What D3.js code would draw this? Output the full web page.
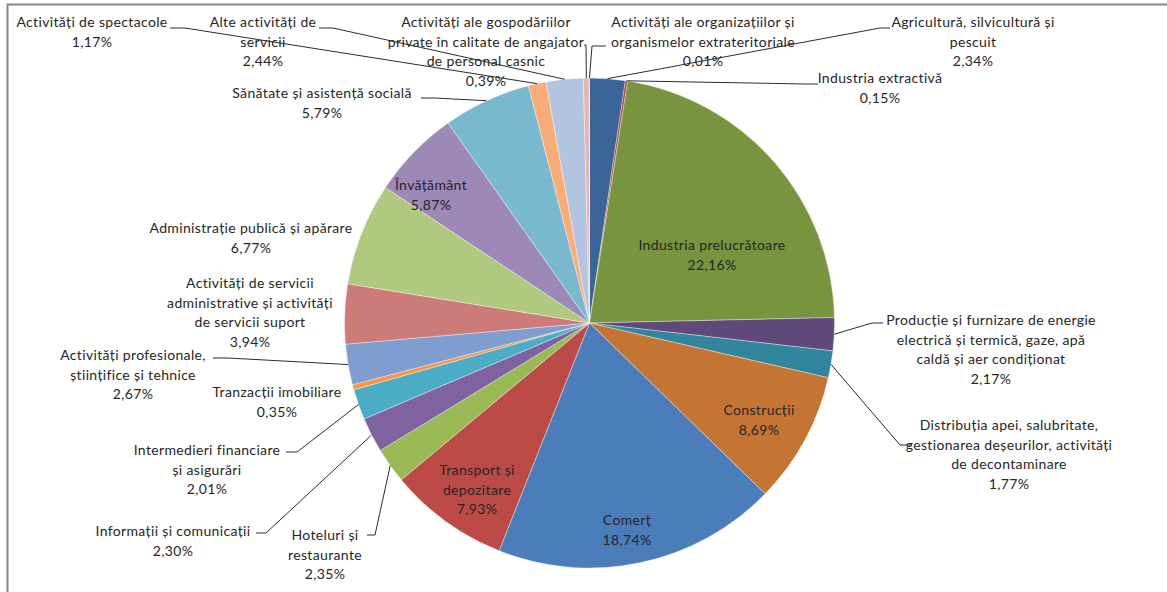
<!DOCTYPE html>
<html><head><meta charset="utf-8">
<script src="https://cdn.jsdelivr.net/npm/d3@7"></script>
<style>
body{margin:0;background:#fff}
text{font-family:Lato, "Liberation Sans", sans-serif;font-size:14px;letter-spacing:0.35px;fill:#262626}
</style>
</head><body><svg id="c" width="1167" height="592"></svg>
<script>
// ---- data ----
const categories = [
  "Agricultură, silvicultură și pescuit",
  "Industria extractivă",
  "Industria prelucrătoare",
  "Producție și furnizare de energie electrică și termică, gaze, apă caldă și aer condiționat",
  "Distribuția apei, salubritate, gestionarea deșeurilor, activități de decontaminare",
  "Construcții",
  "Comerț",
  "Transport și depozitare",
  "Hoteluri și restaurante",
  "Informații și comunicații",
  "Intermedieri financiare și asigurări",
  "Tranzacții imobiliare",
  "Activități profesionale, științifice și tehnice",
  "Activități de servicii administrative și activități de servicii suport",
  "Administrație publică și apărare",
  "Învățământ",
  "Sănătate și asistență socială",
  "Activități de spectacole",
  "Alte activități de servicii",
  "Activități ale gospodăriilor private în calitate de angajator de personal casnic",
  "Activități ale organizațiilor și organismelor extrateritoriale"
];
const values = [2.34, 0.15, 22.16, 2.17, 1.77, 8.69, 18.74, 7.93, 2.35, 2.30, 2.01, 0.35, 2.67, 3.94, 6.77, 5.87, 5.79, 1.17, 2.44, 0.39, 0.01];
const labelLines = [
  ["Agricultură, silvicultură și", "pescuit"],
  ["Industria extractivă"],
  ["Industria prelucrătoare"],
  ["Producție și furnizare de energie", "electrică și termică, gaze, apă", "caldă și aer condiționat"],
  ["Distribuția apei, salubritate,", "gestionarea deșeurilor, activități", "de decontaminare"],
  ["Construcții"],
  ["Comerț"],
  ["Transport și", "depozitare"],
  ["Hoteluri și", "restaurante"],
  ["Informații și comunicații"],
  ["Intermedieri financiare", "și asigurări"],
  ["Tranzacții imobiliare"],
  ["Activități profesionale,", "științifice și tehnice"],
  ["Activități de servicii", "administrative și activități", "de servicii suport"],
  ["Administrație publică și apărare"],
  ["Învățământ"],
  ["Sănătate și asistență socială"],
  ["Activități de spectacole"],
  ["Alte activități de", "servicii"],
  ["Activități ale gospodăriilor", "private în calitate de angajator", "de personal casnic"],
  ["Activități ale organizațiilor și", "organismelor extrateritoriale"]
];
const colors = ["#3B6599","#A9423F","#78943E","#604A7B","#31859C","#C47533","#4A7DBA","#BC4B48","#98B954","#7F63A1","#4BACC6","#F79646","#7F9ECF","#CD7B79","#AFC97E","#9D89B8","#79B9CF","#F9AB78","#B3C4E0","#E4B5B4","#C8D9A8"];

// ---- layout (label placement) ----
const W = 1167, H = 592, cx = 589.5, cy = 323, R = 245, lineH = 19.6;
const labelPos = [
  {x:973, y:22, stub:[[890,28],[880,28]]},
  {x:880, y:78, stub:[[818,84],[806,84]]},
  {x:712, y:245},
  {x:991, y:320, stub:[[883,323],[872,323]]},
  {x:1009, y:425, stub:[[912,445],[900,445]]},
  {x:759, y:410},
  {x:627, y:520},
  {x:477, y:470},
  {x:325, y:535, stub:[[367,535],[375,535]]},
  {x:173, y:531, stub:[[256,533],[266,533]]},
  {x:207, y:450, stub:[[286,452],[297,452]]},
  {x:277, y:392},
  {x:133, y:355, stub:[[213,358],[228,358]]},
  {x:250, y:283},
  {x:251, y:228},
  {x:431, y:185},
  {x:322, y:93, stub:[[421,98],[435,98]]},
  {x:92, y:22, stub:[[170,28],[185,28]]},
  {x:263, y:22, stub:[[319,28],[333,28]]},
  {x:486, y:22, stub:[[584,45],[586,45]]},
  {x:703, y:22, stub:[[606,46],[592,46]]}
];

const svg = d3.select("#c");
// frame
svg.append("path").attr("d", `M7.5,${H} V4.5 H${W}`).attr("fill","none").attr("stroke","#868686").attr("stroke-width",2);

const pie = d3.pie().sort(null).value(d => d);
const arcs = pie(values);
const arc = d3.arc().innerRadius(0).outerRadius(R);
const edge = d3.arc().innerRadius(R).outerRadius(R);
const g = svg.append("g").attr("transform", `translate(${cx},${cy})`);
g.selectAll("path.slice").data(arcs).join("path")
  .attr("class","slice").attr("d", arc)
  .attr("fill", (d,i) => colors[i])
  .attr("stroke", "rgba(255,255,255,0.6)").attr("stroke-width", 0.6);

const fmt = v => d3.format(".2f")(v).replace(".", ",") + "%";
const line = d3.line();

// leader lines
arcs.forEach((d, i) => {
  const p = labelPos[i];
  if (!p.stub) return;
  const c = edge.centroid(d);
  const pts = p.stub.concat([[c[0] + cx, c[1] + cy]]);
  svg.append("path").attr("d", line(pts)).attr("fill","none")
    .attr("stroke","#2b2b2b").attr("stroke-width",1);
});

// labels
arcs.forEach((d, i) => {
  const p = labelPos[i];
  const lines = labelLines[i].concat([fmt(values[i])]);
  const t = svg.append("text").attr("text-anchor","middle");
  lines.forEach((s, k) => {
    t.append("tspan").attr("x", p.x).attr("y", p.y + k * lineH).attr("dy","0.35em").text(s);
  });
});
</script>
</body></html>
